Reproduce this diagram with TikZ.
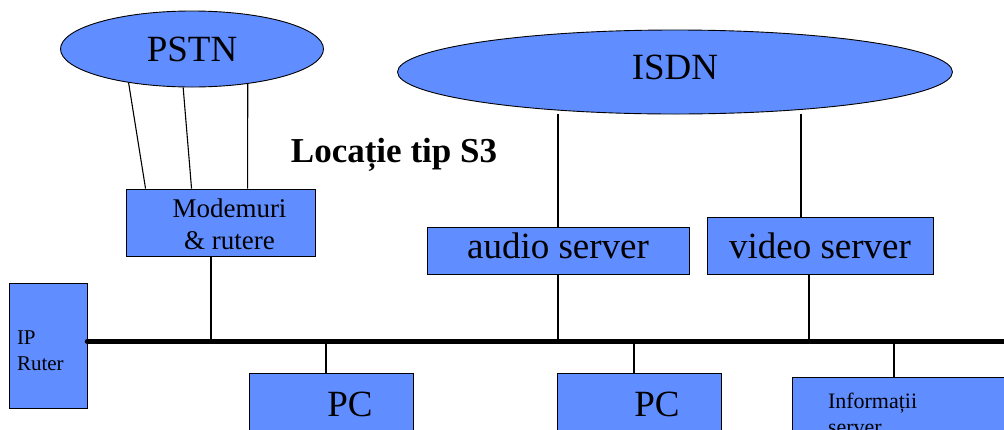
\documentclass[tikz,border=0pt]{standalone}
\usepackage{fontspec}
\setmainfont{Liberation Serif}
\definecolor{netblue}{RGB}{96,141,255}
\usetikzlibrary{shapes.geometric,calc}

\begin{document}
\begin{tikzpicture}[x=1pt, y=-1pt,
    cloud/.style={ellipse, draw=black, fill=netblue, line width=0.9pt, inner sep=0pt,
                  font=\fontsize{37}{44}\selectfont},
    box/.style={rectangle, draw=black, fill=netblue, line width=0.9pt, inner sep=0pt},
    big/.style={font=\fontsize{37}{44}\selectfont},
    wire/.style={line width=1.1pt},
    bus/.style={line width=5.5pt, line cap=round}
  ]
  \useasboundingbox (0,0) rectangle (1004,429);
  \clip (0,0) rectangle (1004,429);

  % networks
  \node[cloud, minimum width=263pt, minimum height=76pt] (pstn) at (192,49) {PSTN};
  \node[cloud, text depth=10pt, minimum width=555pt, minimum height=84pt] (isdn) at (675,72) {ISDN};
  \node[font=\bfseries\fontsize{35}{42}\selectfont] (title) at (394,155) {Locație tip S3};

  % servers and routers
  \node[box, minimum width=189pt, minimum height=67pt] (modem) at (220.5,222.5) {};
  \node[align=center, font=\fontsize{27}{32}\selectfont] (modemtxt) at (229.5,224.5) {Modemuri\\\& rutere};
  \node[box, big, text depth=10pt, minimum width=262pt, minimum height=47pt] (audio) at (558,250.5) {audio server};
  \node[box, big, minimum width=226pt, minimum height=57pt] (video) at (820,245.5) {video server};
  \node[box, minimum width=78pt, minimum height=125pt, text width=62pt, text depth=15pt, align=left,
        font=\fontsize{21}{26}\selectfont] (ruter) at (48,345.5) {IP\\Ruter};

  % hosts on the LAN
  \node[box, minimum width=164pt, minimum height=63pt] (pc1) at (331,404.5) {};
  \node[box, minimum width=164pt, minimum height=63pt] (pc2) at (639,404.5) {};
  \node[big] (pc1txt) at (350,404.5) {PC};
  \node[big] (pc2txt) at (657,404.5) {PC};
  \node[box, minimum width=230pt, minimum height=74pt, text width=158pt, align=left,
        font=\fontsize{22}{26}\selectfont] (info) at (907,414) {Informații\\server};

  % PSTN lines
  \draw[wire] (pstn.208) -- ([xshift=20pt]modem.north west);
  \draw[wire] (pstn.257) -- ([xshift=66pt]modem.north west);
  \draw[wire] (pstn.328) -- ([xshift=122pt]modem.north west);

  % ISDN lines
  \draw[wire] (audio.north) -- (audio.north |- isdn.south);
  \draw[wire] ([xshift=-19pt]video.north) coordinate (v1) -- (v1 |- isdn.south);

  % LAN
  \coordinate (busend) at (1010,341.5);
  \draw[wire] ([xshift=-9.5pt]modem.south) coordinate (t1) -- (t1 |- busend);
  \draw[wire] (audio.south) -- (audio.south |- busend);
  \draw[wire] ([xshift=-11pt]video.south) coordinate (t2) -- (t2 |- busend);
  \draw[wire] ([xshift=-5pt]pc1.north) coordinate (t3) -- (t3 |- busend);
  \draw[wire] ([xshift=-5pt]pc2.north) coordinate (t4) -- (t4 |- busend);
  \draw[wire] ([xshift=-13pt]info.north) coordinate (t5) -- (t5 |- busend);
  \draw[bus] (ruter.east |- busend) -- (busend);
\end{tikzpicture}
\end{document}
